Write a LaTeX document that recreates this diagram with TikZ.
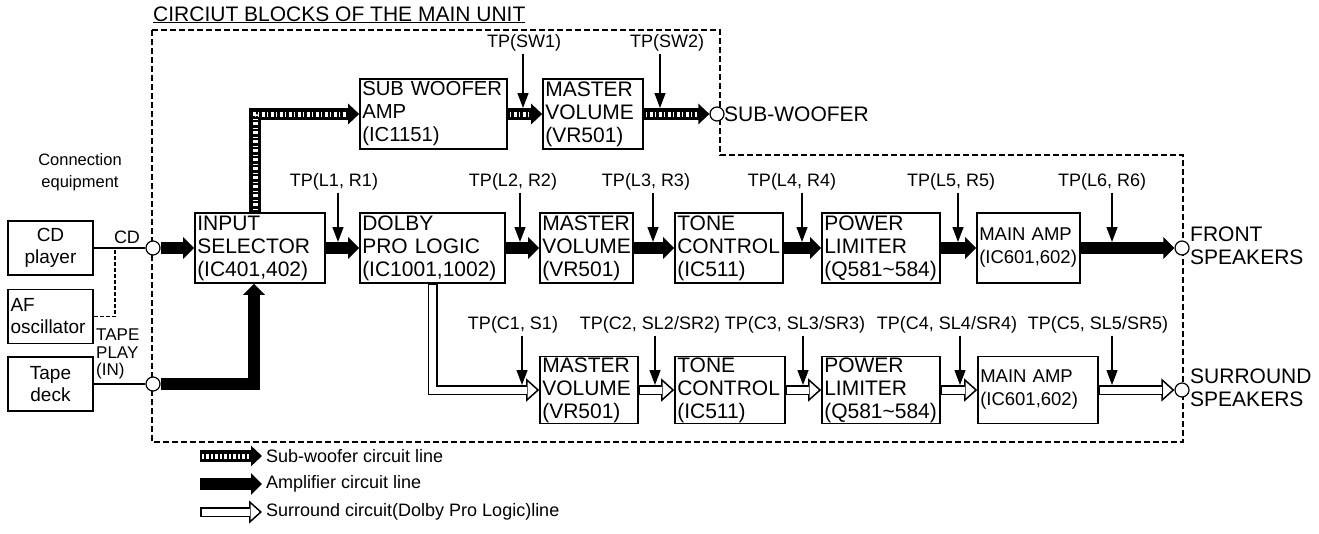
\documentclass[tikz,border=0pt]{standalone}
\usepackage{fontspec}
\setmainfont{Liberation Sans}
\usetikzlibrary{arrows.meta}
\tikzset{
  box/.style={draw, line width=1.6pt, rectangle, minimum height=70pt, inner xsep=2pt, inner ysep=0pt, align=left, font=\fontsize{21}{23}\selectfont},
  blk/.code={\pgfmathsetmacro\bw{#1}\pgfmathsetmacro\tw{#1-4.5}\edef\tmp{\noexpand\pgfkeysalso{/tikz/minimum width=\bw pt,/tikz/text width=\tw pt}}\tmp},
  mafont/.style={font=\fontsize{18.5}{23}\selectfont},
  sbox/.style={draw, line width=1.5pt, minimum width=85pt, minimum height=54pt, font=\fontsize{19}{22}\selectfont, inner sep=2pt},
  port/.style={circle, draw, fill=white, line width=1.2pt, minimum size=14pt, inner sep=0pt},
  lbl/.style={font=\fontsize{21}{23}\selectfont, inner sep=0pt},
  tpl/.style={font=\fontsize{18}{20}\selectfont, inner sep=2pt},
  leg/.style={font=\fontsize{18}{20}\selectfont, inner sep=0pt, anchor=west},
  tp/.style={line width=1.3pt, -{Triangle[length=15pt,width=11pt]}},
  wire/.style={line width=1.2pt},
  amp/.style={line width=12pt, -{Triangle[length=11pt,width=21pt]}},
  sub/.style={line width=12pt, -{Triangle[length=11pt,width=20pt]},
    postaction={draw, -, white, line width=5pt, dash pattern=on 1.5pt off 2.5pt on 3pt off 2pt, shorten >=12pt, shorten <=2pt}},
  sur/.style={line width=10pt, -{Triangle[length=13pt,width=23pt,fill=white,line width=1.5pt]},
    postaction={draw, -, white, line width=7pt, shorten >=12pt, shorten <=1.5pt}},
  unitbox/.style={line width=1.5pt, dash pattern=on 6pt off 3pt},
}
\newcommand\tpa[6]{\node[tpl] (#1) at (#2,#3) {#6}; \coordinate (#1e) at (#4,#5); \draw[tp] (#1.south -| #1e) -- (#1e);}
\begin{document}
\begin{tikzpicture}[x=1pt,y=-1pt]
\useasboundingbox (0,0) rectangle (1319,533);
% unit outline
\draw[unitbox] (152,30) -- (720,30) -- (720,155) -- (1183,155) -- (1183,442) -- (152,442) -- cycle;
\node[lbl, anchor=base west] (title) at (153,21) {\underline{CIRCIUT BLOCKS OF THE MAIN UNIT}};
% blocks
\node[box, blk=147, font=\fontsize{20.3}{23}\selectfont] (swamp) at (433.5,114) {SUB WOOFER\\AMP\\(IC1151)};
\node[box, blk=100] (swmv) at (593,114) {MASTER\\VOLUME\\(VR501)};
\node[box, blk=130] (input) at (260,248) {INPUT\\SELECTOR\\(IC401,402)};
\node[box, blk=145] (dolby) at (432.5,248) {DOLBY\\PRO LOGIC\\(IC1001,1002)};
\node[box, blk=93] (mv1) at (586.5,248) {MASTER\\VOLUME\\(VR501)};
\node[box, blk=108] (tone1) at (729,248) {TONE\\CONTROL\\(IC511)};
\node[box, blk=118] (pl1) at (881,248) {POWER\\LIMITER\\(Q581\textasciitilde584)};
\node[box, blk=103, mafont] (ma1) at (1028.5,248) {MAIN AMP\\(IC601,602)};
\node[box, blk=98, minimum height=67pt] (mv2) at (589,390) {MASTER\\VOLUME\\(VR501)};
\node[box, blk=110, minimum height=67pt] (tone2) at (730,390) {TONE\\CONTROL\\(IC511)};
\node[box, blk=118, minimum height=67pt] (pl2) at (881,390) {POWER\\LIMITER\\(Q581\textasciitilde584)};
\node[box, blk=120, minimum height=67pt, mafont] (ma2) at (1038,390) {MAIN AMP\\(IC601,602)};
% connection equipment
\node[font=\fontsize{16.5}{22}\selectfont, align=center] (conn) at (80,172) {Connection\\equipment};
\node[sbox, align=center] (cd) at (50.5,248) {CD\\player};
\node[sbox, align=left, text width=80pt] (af) at (50.5,316.5) {AF\\oscillator};
\node[sbox, align=center] (tape) at (50.5,384) {Tape\\deck};
\node[font=\fontsize{18}{20}\selectfont, inner sep=0pt] (cdlbl) at (127,237) {CD};
\node[font=\fontsize{17}{17.5}\selectfont, inner sep=0pt, align=left, anchor=west] (tapelbl) at (96,354) {TAPE\\PLAY\\(IN)};
% ports
\node[port] (cdc) at (153,248) {};
\node[port] (tapec) at (153,384) {};
\node[port] (swc) at (717,114) {};
\node[port] (frc) at (1182,248) {};
\node[port] (src) at (1182,390) {};
\node[lbl, anchor=west] (swlbl) at (724,114) {SUB-WOOFER};
\node[lbl, anchor=west, align=left] (frlbl) at (1190,246) {FRONT\\SPEAKERS};
\node[lbl, anchor=west, align=left] (srlbl) at (1190,388) {SURROUND\\SPEAKERS};
% wires
\coordinate (afj) at (115,248);
\draw[wire] (cd.east) -- (cdc.west);
\draw[wire, dash pattern=on 4pt off 2pt] (af.east) -| (afj);
\draw[wire] (tape.east) -- (tapec.west);
% amplifier lines
\draw[amp] (cdc.east) -- (input.west);
\draw[amp] (tapec.east) -| ([xshift=-6pt]input.south);
\draw[amp] (input.east) -- (dolby.west);
\draw[amp] (dolby.east) -- (mv1.west);
\draw[amp] (mv1.east) -- (tone1.west);
\draw[amp] (tone1.east) -- (pl1.west);
\draw[amp] (pl1.east) -- (ma1.west);
\draw[amp] (ma1.east) -- (frc.west);
% sub-woofer lines
\draw[sub] ([xshift=-5pt]input.north) |- (swamp.west);
\draw[sub] (swamp.east) -- (swmv.west);
\draw[sub] (swmv.east) -- (swc.west);
% surround lines
\draw[sur] (dolby.south) |- (mv2.west);
\draw[sur] (mv2.east) -- (tone2.west);
\draw[sur] (tone2.east) -- (pl2.west);
\draw[sur] (pl2.east) -- (ma2.west);
\draw[sur] (ma2.east) -- (src.west);
% test points
\tpa{tl1}{334}{182}{338}{242}{TP(L1, R1)}
\tpa{tl2}{513}{182}{520}{242}{TP(L2, R2)}
\tpa{tl3}{646}{182}{653}{242}{TP(L3, R3)}
\tpa{tl4}{792}{182}{802}{242}{TP(L4, R4)}
\tpa{tl5}{951}{182}{958}{242}{TP(L5, R5)}
\tpa{tl6}{1102}{182}{1112}{242}{TP(L6, R6)}
\tpa{tsw1}{524}{43}{523}{108}{TP(SW1)}
\tpa{tsw2}{667}{43}{660}{108}{TP(SW2)}
\tpa{tc1}{513}{325}{522}{385}{TP(C1, S1)}
\tpa{tc2}{650}{325}{655}{385}{TP(C2, SL2/SR2)}
\tpa{tc3}{795}{325}{803}{385}{TP(C3, SL3/SR3)}
\tpa{tc4}{947}{325}{960}{385}{TP(C4, SL4/SR4)}
\tpa{tc5}{1098}{325}{1112}{385}{TP(C5, SL5/SR5)}
% legend
\coordinate (lg1a) at (200,456); \coordinate (lg1b) at (262,456);
\coordinate (lg2a) at (200,484); \coordinate (lg2b) at (262,484);
\coordinate (lg3a) at (200,512); \coordinate (lg3b) at (262,512);
\draw[sub] (lg1a) -- (lg1b);
\draw[amp] (lg2a) -- (lg2b);
\draw[sur] (lg3a) -- (lg3b);
\node[leg] (lg1t) at (266,456) {Sub-woofer circuit line};
\node[leg] (lg2t) at (266,484) {Amplifier circuit line};
\node[leg] (lg3t) at (266,512) {Surround circuit(Dolby Pro Logic)line};
\end{tikzpicture}
\end{document}
